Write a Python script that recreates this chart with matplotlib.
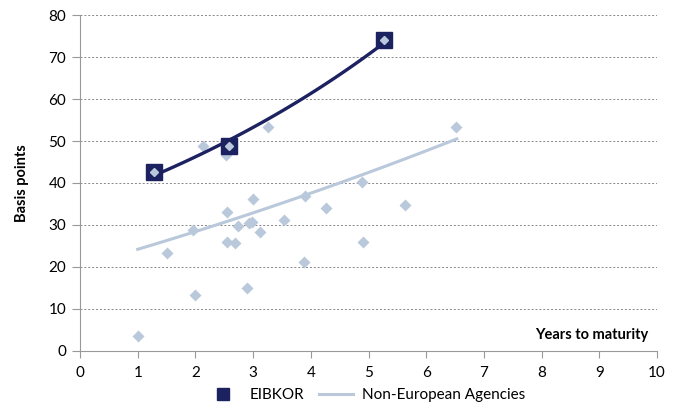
import numpy as np
from matplotlib import pyplot as plt
from matplotlib.lines import Line2D

# Non-European agencies: years to maturity vs spread (bp)
agency_years = [1.0, 1.5, 1.96, 2.0, 2.14, 2.53, 2.54, 2.54, 2.69, 2.74, 2.89, 2.93,
                2.98, 2.99, 3.12, 3.25, 3.54, 3.89, 3.90, 4.26, 4.89, 4.90, 5.64, 6.52]
agency_bp = [3.6, 23.4, 28.8, 13.4, 48.9, 46.6, 33.0, 26.0, 25.8, 29.8, 14.9, 30.4,
             30.8, 36.2, 28.3, 53.4, 31.3, 21.1, 37.0, 34.0, 40.3, 25.9, 34.7, 53.3]

# trendline of the agencies at start, middle and end
agency_trend_x = [1.0, 3.9, 6.53]
agency_trend_y = [24.2, 37.1, 50.5]

# EIBKOR bonds
eib_years = [1.28, 2.58, 5.27]
eib_bp = [42.5, 48.9, 74.0]

navy = '#1c2160'
light = '#b9c8da'

plt.rcParams['font.family'] = ['Lato', 'DejaVu Sans']
fig = plt.figure(figsize=(6.84, 4.08), dpi=100)
ax = fig.add_axes([0.117, 0.140, 0.8435, 0.823])

# agencies trendline (smooth curve through the read points)
q = np.polyfit(agency_trend_x, agency_trend_y, 2)
xa = np.linspace(agency_trend_x[0], agency_trend_x[-1], 100)
ax.plot(xa, np.polyval(q, xa), color=light, lw=2.2, zorder=3)

# EIBKOR exponential trendline
k2, c2 = np.polyfit(eib_years, np.log(eib_bp), 1)
xe = np.linspace(min(eib_years), max(eib_years), 100)
ax.plot(xe, np.exp(c2 + k2 * xe), color=navy, lw=2.4, zorder=4)

ax.plot(eib_years, eib_bp, 's', color=navy, ms=11.5, zorder=5)
ax.plot(eib_years, eib_bp, 'D', color=light, ms=4, zorder=6)
ax.plot(agency_years, agency_bp, 'D', color=light, ms=6.3, mec='none', zorder=2)

ax.set_xlim(0, 10)
ax.set_ylim(0, 80)
ax.set_xticks(range(0, 11))
ax.set_yticks(range(0, 81, 10))
ax.grid(axis='y', color='#888888', linestyle=(0, (2, 2)), linewidth=0.7)
ax.set_axisbelow(True)
for s in ['top', 'right']:
    ax.spines[s].set_visible(False)
for s in ['left', 'bottom']:
    ax.spines[s].set_color('#999999')
ax.tick_params(axis='x', colors='#999999', labelcolor='black', length=5, labelsize=11, pad=6)
ax.tick_params(axis='y', colors='#999999', labelcolor='black', length=6, labelsize=11, pad=4)

ax.set_ylabel('Basis points', fontsize=10.5, fontweight='bold', labelpad=14)
ax.text(0.985, 0.025, 'Years to maturity', transform=ax.transAxes, ha='right', va='bottom',
        fontsize=10.5, fontweight='bold')

handles = [Line2D([], [], marker='s', color=navy, ls='none', ms=9),
           Line2D([], [], color=light, lw=2.2)]
fig.legend(handles, ['EIBKOR', 'Non-European Agencies'], loc='lower center',
           bbox_to_anchor=(0.535, -0.02), ncol=2, frameon=False, fontsize=11,
           handlelength=2.2, columnspacing=1.0, handletextpad=0.6)

fig.savefig('out.png', dpi=100)
